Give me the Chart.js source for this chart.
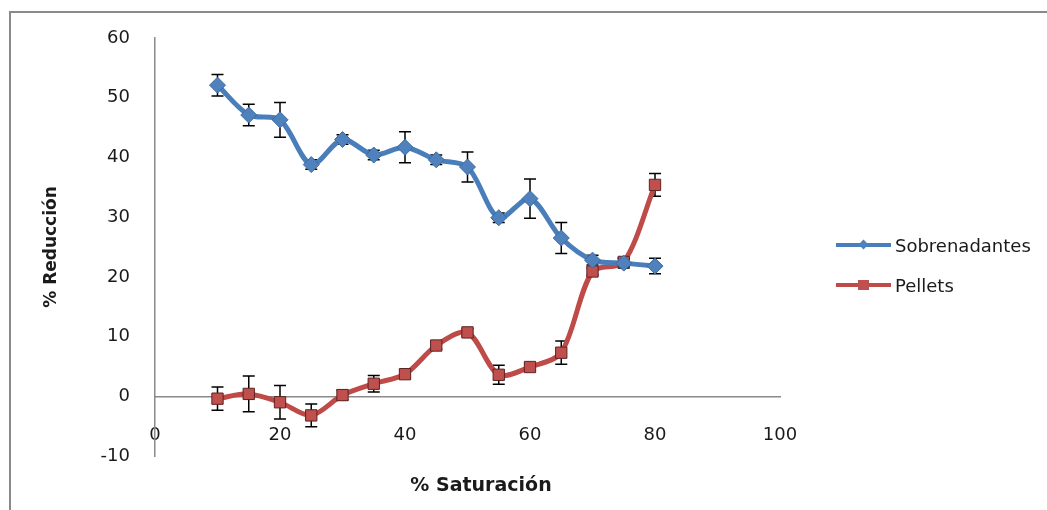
<!DOCTYPE html>
<html>
<head>
<meta charset="utf-8">
<script src="https://cdn.jsdelivr.net/npm/chart.js@4.4.1/dist/chart.umd.min.js"></script>
<style>
  html, body { margin: 0; padding: 0; background: #fff; }
  #wrap { position: relative; width: 1047px; height: 510px; overflow: hidden; }
  #frame { position: absolute; left: 9px; top: 11px; right: -10px; bottom: -10px;
           border-top: 2px solid #8a8a8a; border-left: 2px solid #8a8a8a; }
  #chart { position: absolute; left: 0; top: 0; }
  #legend { position: absolute; left: 836px; top: 232px; font: 18px "DejaVu Sans"; color: #1a1a1a; }
  .row { display: flex; align-items: center; height: 26px; margin-bottom: 14px; }
  .icon { position: relative; width: 55px; height: 26px; margin-right: 4px; }
  .icon .line { position: absolute; left: 0; top: 11px; width: 55px; height: 4px; }
  .icon .mark { position: absolute; }
</style>
</head>
<body>
<div id="wrap">
  <div id="frame"></div>
  <canvas id="chart" width="1047" height="510"></canvas>
  <div id="legend">
    <div class="row">
      <div class="icon">
        <div class="line" style="background:#4A7EBB"></div>
        <div class="mark" style="left:24px;top:9px;width:7px;height:7px;background:#4F81BD;transform:rotate(45deg)"></div>
      </div>
      <span>Sobrenadantes</span>
    </div>
    <div class="row">
      <div class="icon">
        <div class="line" style="background:#BE4B48"></div>
        <div class="mark" style="left:22px;top:8px;width:11px;height:10px;background:#C0504D"></div>
      </div>
      <span>Pellets</span>
    </div>
  </div>
</div>
<script>
// % saturation on the x axis
const saturacion = [10, 15, 20, 25, 30, 35, 40, 45, 50, 55, 60, 65, 70, 75, 80];

// % reduction
const sobrenadantes = [52.1, 47.1, 46.3, 38.8, 43.0, 40.4, 41.7, 39.6, 38.4, 29.9, 33.1, 26.5, 22.8, 22.3, 21.8];
const sobrenadantesErr = [1.8, 1.8, 2.9, 0.8, 0.8, 0.8, 2.6, 0.8, 2.5, 0.8, 3.3, 2.6, 0.8, 0.8, 1.3];
const pellets = [-0.4, 0.4, -1.0, -3.2, 0.2, 2.1, 3.7, 8.5, 10.7, 3.6, 4.9, 7.3, 20.9, 22.5, 35.4];
const pelletsErr = [1.95, 3.0, 2.8, 1.9, 0.8, 1.4, 0.6, 0.6, 0.6, 1.6, 0.6, 1.95, 0.6, 0.6, 1.9];

const xTicks = [0, 20, 40, 60, 80, 100];
const yTicks = [-10, 0, 10, 20, 30, 40, 50, 60];

const AXIS_COLOR = "#8a8a8a";
const TEXT_COLOR = "#1a1a1a";
const FONT = "DejaVu Sans";

const toPoints = (vals) => vals.map((v, i) => ({ x: saturacion[i], y: v }));

// Draws the vertical error bars under the markers
const errorBars = {
  id: "errorBars",
  beforeDatasetsDraw(chart) {
    const { ctx, scales } = chart;
    const sets = [
      [sobrenadantes, sobrenadantesErr],
      [pellets, pelletsErr],
    ];
    ctx.save();
    ctx.strokeStyle = "#000";
    ctx.lineWidth = 1.5;
    sets.forEach(([vals, errs]) => {
      vals.forEach((v, i) => {
        const px = scales.x.getPixelForValue(saturacion[i]);
        const top = scales.y.getPixelForValue(v + errs[i]);
        const bot = scales.y.getPixelForValue(v - errs[i]);
        ctx.beginPath();
        ctx.moveTo(px, top);
        ctx.lineTo(px, bot);
        ctx.moveTo(px - 6, top);
        ctx.lineTo(px + 6, top);
        ctx.moveTo(px - 6, bot);
        ctx.lineTo(px + 6, bot);
        ctx.stroke();
      });
    });
    ctx.restore();
  },
};

// x axis title sits a bit right of the plot centre, as in the original
const xTitle = {
  id: "xTitle",
  afterDraw(chart) {
    const { ctx } = chart;
    ctx.save();
    ctx.font = `bold 19px "${FONT}"`;
    ctx.fillStyle = TEXT_COLOR;
    ctx.textAlign = "center";
    ctx.textBaseline = "middle";
    ctx.fillText("% Saturación", 481, 486);
    ctx.restore();
  },
};

new Chart(document.getElementById("chart"), {
  type: "line",
  data: {
    datasets: [
      {
        label: "Sobrenadantes",
        data: toPoints(sobrenadantes),
        borderColor: "#4A7EBB",
        borderWidth: 5,
        tension: 0.3,
        pointStyle: "rectRot",
        pointRadius: 8,
        pointBackgroundColor: "#4F81BD",
        pointBorderColor: "#3d6aa3",
        pointBorderWidth: 1,
      },
      {
        label: "Pellets",
        data: toPoints(pellets),
        borderColor: "#BE4B48",
        borderWidth: 5,
        tension: 0.3,
        pointStyle: "rect",
        pointRadius: 8,
        pointBackgroundColor: "#C0504D",
        pointBorderColor: "#5e2221",
        pointBorderWidth: 1,
      },
    ],
  },
  options: {
    responsive: false,
    animation: false,
    layout: { padding: { left: 0, top: 38, right: 267, bottom: 54 } },
    plugins: {
      legend: { display: false },
      tooltip: { enabled: false },
    },
    scales: {
      x: {
        type: "linear",
        position: { y: 0 },
        min: 0,
        max: 100,
        afterBuildTicks: (scale) => {
          scale.ticks = xTicks.map((v) => ({ value: v }));
        },
        grid: { display: false, drawTicks: false },
        border: { display: true, color: AXIS_COLOR, width: 1.5 },
        ticks: { padding: 28, color: TEXT_COLOR, font: { family: FONT, size: 18 } },
      },
      y: {
        type: "linear",
        min: -10,
        max: 60,
        afterBuildTicks: (scale) => {
          scale.ticks = yTicks.map((v) => ({ value: v }));
        },
        afterFit: (scale) => {
          scale.width = 155;
        },
        grid: { display: false, drawTicks: false },
        border: { display: true, color: AXIS_COLOR, width: 1.5 },
        ticks: { padding: 25, color: TEXT_COLOR, font: { family: FONT, size: 18 } },
        title: {
          display: true,
          text: "% Reducción",
          color: TEXT_COLOR,
          font: { family: FONT, size: 17, weight: "bold" },
          padding: { top: 41, bottom: 0 },
        },
      },
    },
  },
  plugins: [errorBars, xTitle],
});
</script>
</body>
</html>
